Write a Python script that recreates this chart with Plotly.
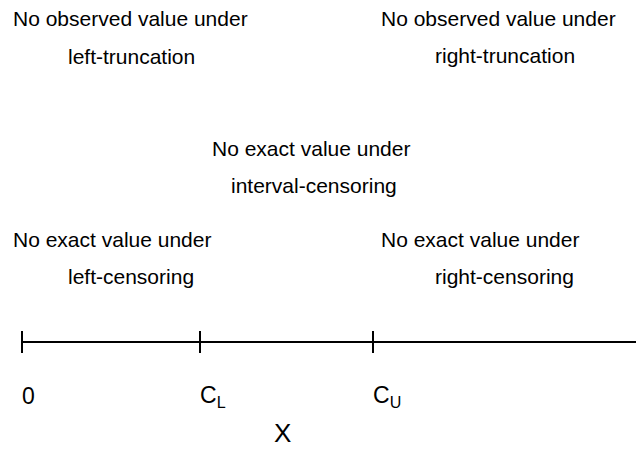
import plotly.graph_objects as go

# Data
tick_positions = [22, 200, 373]
tick_labels = ["0", "C<sub>L</sub>", "C<sub>U</sub>"]
axis_start = 22
axis_end = 636
axis_y = 342
tick_half = 11

region_texts = [
    ("No observed value under", 11, 18),
    ("left-truncation", 66, 56),
    ("No observed value under", 379, 18),
    ("right-truncation", 433, 55),
    ("No exact value under", 210, 148),
    ("interval-censoring", 229, 185),
    ("No exact value under", 11, 239),
    ("left-censoring", 66, 276),
    ("No exact value under", 379, 239),
    ("right-censoring", 433, 276),
]
axis_title = "X"

FONT = "Liberation Sans, Arial, sans-serif"

fig = go.Figure()

fig.add_trace(go.Scatter(x=[axis_start, axis_end], y=[axis_y, axis_y], mode="lines",
                         line=dict(color="black", width=2), hoverinfo="skip", showlegend=False))
fig.add_trace(go.Scatter(x=[axis_end + 3], y=[axis_y], mode="markers",
                         marker=dict(symbol="arrow-right", size=10, color="black",
                                     line=dict(width=0)),
                         cliponaxis=False,
                         hoverinfo="skip", showlegend=False))
for tx in tick_positions:
    fig.add_trace(go.Scatter(x=[tx, tx], y=[axis_y - tick_half, axis_y + tick_half], mode="lines",
                             line=dict(color="black", width=2), hoverinfo="skip", showlegend=False))

annotations = []
for t, x, y in region_texts:
    annotations.append(dict(x=x, y=y, xref="x", yref="y", text=t, showarrow=False,
                            xanchor="left", yanchor="middle",
                            font=dict(family=FONT, size=21, color="black")))
for tx, lab in zip(tick_positions, tick_labels):
    annotations.append(dict(x=tx - 2, y=396, xref="x", yref="y", text=lab, showarrow=False,
                            xanchor="left", yanchor="middle",
                            font=dict(family=FONT, size=23, color="black")))
annotations.append(dict(x=282, y=433, xref="x", yref="y", text=axis_title, showarrow=False,
                        xanchor="center", yanchor="middle",
                        font=dict(family=FONT, size=26, color="black")))

fig.update_layout(
    width=636, height=453,
    margin=dict(l=0, r=0, t=0, b=0),
    paper_bgcolor="white", plot_bgcolor="white",
    xaxis=dict(range=[0, 636], visible=False, fixedrange=True),
    yaxis=dict(range=[453, 0], visible=False, fixedrange=True),
    annotations=annotations,
    showlegend=False,
)

fig.write_html("out.html", config={"displayModeBar": False},
               post_script="document.body.style.margin='0';document.body.style.overflow='hidden';")
